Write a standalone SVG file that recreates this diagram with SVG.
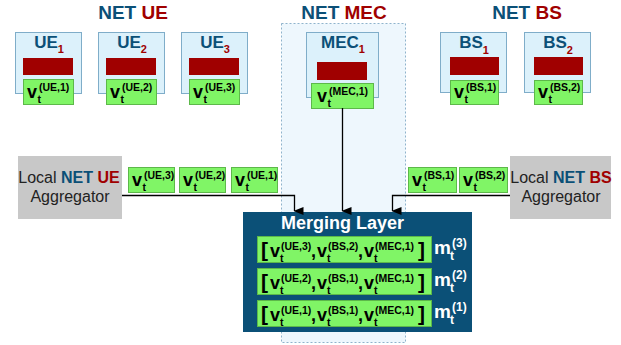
<svg xmlns="http://www.w3.org/2000/svg" width="621" height="345" viewBox="0 0 621 345">
<defs>
<marker id="arr" markerWidth="8" markerHeight="10" refX="4" refY="9" orient="auto" markerUnits="userSpaceOnUse" viewBox="0 0 8 10">
<path d="M0,0 L8,0 L4,10 Z" fill="#000"/>
</marker>
</defs>
<style>
text{font-family:"Liberation Sans",Arial,sans-serif;font-weight:bold}
.title{font-size:19px;fill:#0b5077;text-anchor:middle}
.red{fill:#a00000}
.dev{fill:#dcf1fb;stroke:#7fadc9;stroke-width:1}
.bar{fill:#a00000}
.grn{fill:#80f566;stroke:#5db84a;stroke-width:1}
.lbl{font-size:17px;fill:#0b5077;text-anchor:middle}
.sub{font-size:11px;fill:#a00000}
.v{font-size:18px;fill:#000}
.s{font-size:10.5px;fill:#000}
.agg{fill:#c8c8c8}
.aggt{font-size:16px;font-weight:normal;fill:#222;text-anchor:middle}
.b{font-weight:bold}
.blue{fill:#0b5077}
.br{font-size:21px;fill:#000}
.m{font-size:19px;fill:#fff}
.ms{font-size:12px;fill:#fff}
.ml{font-size:18px;fill:#fff;text-anchor:middle}
.conn{fill:none;stroke:#000;stroke-width:1.3}
</style>
<rect width="621" height="345" fill="#fff"/>

<!-- MEC network region -->
<g id="net-mec-region">
<rect x="281.5" y="23.5" width="124" height="319" fill="#eef7fd" stroke="#8fb3cc" stroke-width="1" stroke-dasharray="2,2"/>
</g>

<!-- titles -->
<g id="titles">
<text class="title" x="133" y="19">NET <tspan class="red">UE</tspan></text>
<text class="title" x="344" y="19">NET <tspan class="red">MEC</tspan></text>
<text class="title" x="527" y="19">NET <tspan class="red">BS</tspan></text>
</g>

<!-- UE devices -->
<g id="ue1">
<rect class="dev" x="15.5" y="32.5" width="66" height="61"/>
<text class="lbl" x="49" y="48">UE<tspan class="sub" dy="5">1</tspan></text>
<rect class="bar" x="23" y="58" width="50" height="17"/>
<rect class="grn" x="23.5" y="79.5" width="50" height="25"/>
<text class="v" x="27" y="98">v</text><text class="s" x="37.5" y="103">t</text><text class="s" x="39" y="91">(UE,1)</text>
</g>
<g id="ue2">
<rect class="dev" x="98.5" y="32.5" width="66" height="61"/>
<text class="lbl" x="132" y="48">UE<tspan class="sub" dy="5">2</tspan></text>
<rect class="bar" x="106" y="58" width="50" height="17"/>
<rect class="grn" x="106.5" y="79.5" width="50" height="25"/>
<text class="v" x="110" y="98">v</text><text class="s" x="120.5" y="103">t</text><text class="s" x="122" y="91">(UE,2)</text>
</g>
<g id="ue3">
<rect class="dev" x="181.5" y="32.5" width="66" height="61"/>
<text class="lbl" x="215" y="48">UE<tspan class="sub" dy="5">3</tspan></text>
<rect class="bar" x="189" y="58" width="50" height="17"/>
<rect class="grn" x="189.5" y="79.5" width="50" height="25"/>
<text class="v" x="193" y="98">v</text><text class="s" x="203.5" y="103">t</text><text class="s" x="205" y="91">(UE,3)</text>
</g>

<!-- MEC -->
<g id="mec1">
<rect class="dev" x="306.5" y="32.5" width="72" height="65"/>
<text class="lbl" x="343" y="48">MEC<tspan class="sub" dy="5">1</tspan></text>
<rect class="bar" x="317" y="62" width="50" height="18"/>
<rect class="grn" x="311.5" y="83.5" width="62" height="25"/>
<text class="v" x="317" y="102">v</text><text class="s" x="327.5" y="107">t</text><text class="s" x="329" y="95">(MEC,1)</text>
</g>

<!-- BS -->
<g id="bs1">
<rect class="dev" x="440.5" y="32.5" width="66" height="60"/>
<text class="lbl" x="474" y="48">BS<tspan class="sub" dy="6">1</tspan></text>
<rect class="bar" x="450" y="57" width="49" height="18"/>
<rect class="grn" x="450.5" y="80.5" width="48" height="24"/>
<text class="v" x="454" y="98">v</text><text class="s" x="464.5" y="103">t</text><text class="s" x="466" y="91">(BS,1)</text>
</g>
<g id="bs2">
<rect class="dev" x="524.5" y="32.5" width="66" height="60"/>
<text class="lbl" x="558" y="48">BS<tspan class="sub" dy="6">2</tspan></text>
<rect class="bar" x="534" y="57" width="49" height="18"/>
<rect class="grn" x="534.5" y="80.5" width="48" height="24"/>
<text class="v" x="538" y="98">v</text><text class="s" x="548.5" y="103">t</text><text class="s" x="550" y="91">(BS,2)</text>
</g>

<!-- Aggregators -->
<g id="agg-ue">
<rect class="agg" x="18" y="156" width="104" height="63"/>
<text class="aggt" x="69" y="183">Local <tspan class="b blue">NET </tspan><tspan class="b red">UE</tspan></text>
<text class="aggt" x="70" y="202">Aggregator</text>
</g>
<g id="agg-bs">
<rect class="agg" x="510" y="156" width="101" height="63"/>
<text class="aggt" x="561" y="183">Local <tspan class="b blue">NET </tspan><tspan class="b red">BS</tspan></text>
<text class="aggt" x="561" y="202">Aggregator</text>
</g>

<!-- Aggregated vectors -->
<g id="agg-ue-vectors">
<rect class="grn" x="128.5" y="167.5" width="46" height="25"/>
<text class="v" x="132" y="186">v</text><text class="s" x="142.5" y="191">t</text><text class="s" x="144" y="179">(UE,3)</text>
<rect class="grn" x="179.5" y="167.5" width="46" height="25"/>
<text class="v" x="183" y="186">v</text><text class="s" x="193.5" y="191">t</text><text class="s" x="195" y="179">(UE,2)</text>
<rect class="grn" x="231.5" y="167.5" width="46" height="25"/>
<text class="v" x="235" y="186">v</text><text class="s" x="245.5" y="191">t</text><text class="s" x="247" y="179">(UE,1)</text>
</g>
<g id="agg-bs-vectors">
<rect class="grn" x="408.5" y="167.5" width="48" height="25"/>
<text class="v" x="412" y="186">v</text><text class="s" x="422.5" y="191">t</text><text class="s" x="424" y="179">(BS,1)</text>
<rect class="grn" x="459.5" y="167.5" width="48" height="25"/>
<text class="v" x="463" y="186">v</text><text class="s" x="473.5" y="191">t</text><text class="s" x="475" y="179">(BS,2)</text>
</g>

<!-- Merging layer -->
<g id="merging-layer">
<rect x="243" y="212" width="229" height="120" fill="#0b5077"/>
<text class="ml" x="342.5" y="229">Merging Layer</text>

<rect class="grn" x="257.5" y="236.5" width="174" height="26"/>
<text class="br" x="261" y="257">[</text>
<text class="v" x="270" y="257">v</text><text class="s" x="280" y="262">t</text><text class="s" x="281" y="250">(UE,3)</text>
<text class="v" x="311" y="257">,</text>
<text class="v" x="317" y="257">v</text><text class="s" x="327" y="262">t</text><text class="s" x="328" y="250">(BS,2)</text>
<text class="v" x="358" y="257">,</text>
<text class="v" x="364" y="257">v</text><text class="s" x="374" y="262">t</text><text class="s" x="375" y="250">(MEC,1)</text>
<text class="br" x="418" y="257">]</text>
<text class="m" x="434" y="254">m</text><text class="ms" x="450" y="260">t</text><text class="ms" x="452" y="247">(3)</text>

<rect class="grn" x="257.5" y="268.5" width="174" height="26"/>
<text class="br" x="261" y="289">[</text>
<text class="v" x="270" y="289">v</text><text class="s" x="280" y="294">t</text><text class="s" x="281" y="282">(UE,2)</text>
<text class="v" x="311" y="289">,</text>
<text class="v" x="317" y="289">v</text><text class="s" x="327" y="294">t</text><text class="s" x="328" y="282">(BS,1)</text>
<text class="v" x="358" y="289">,</text>
<text class="v" x="364" y="289">v</text><text class="s" x="374" y="294">t</text><text class="s" x="375" y="282">(MEC,1)</text>
<text class="br" x="418" y="289">]</text>
<text class="m" x="434" y="286">m</text><text class="ms" x="450" y="292">t</text><text class="ms" x="452" y="279">(2)</text>

<rect class="grn" x="257.5" y="300.5" width="174" height="26"/>
<text class="br" x="261" y="321">[</text>
<text class="v" x="270" y="321">v</text><text class="s" x="280" y="326">t</text><text class="s" x="281" y="314">(UE,1)</text>
<text class="v" x="311" y="321">,</text>
<text class="v" x="317" y="321">v</text><text class="s" x="327" y="326">t</text><text class="s" x="328" y="314">(BS,1)</text>
<text class="v" x="358" y="321">,</text>
<text class="v" x="364" y="321">v</text><text class="s" x="374" y="326">t</text><text class="s" x="375" y="314">(MEC,1)</text>
<text class="br" x="418" y="321">]</text>
<text class="m" x="434" y="318">m</text><text class="ms" x="450" y="324">t</text><text class="ms" x="452" y="311">(1)</text>
</g>

<!-- connectors -->
<g id="connectors">
<path class="conn" d="M122,195.5 H294.5 V211" marker-end="url(#arr)"/>
<path class="conn" d="M342.5,108 V211" marker-end="url(#arr)"/>
<path class="conn" d="M510,195.5 H392.5 V211" marker-end="url(#arr)"/>
</g>
</svg>
